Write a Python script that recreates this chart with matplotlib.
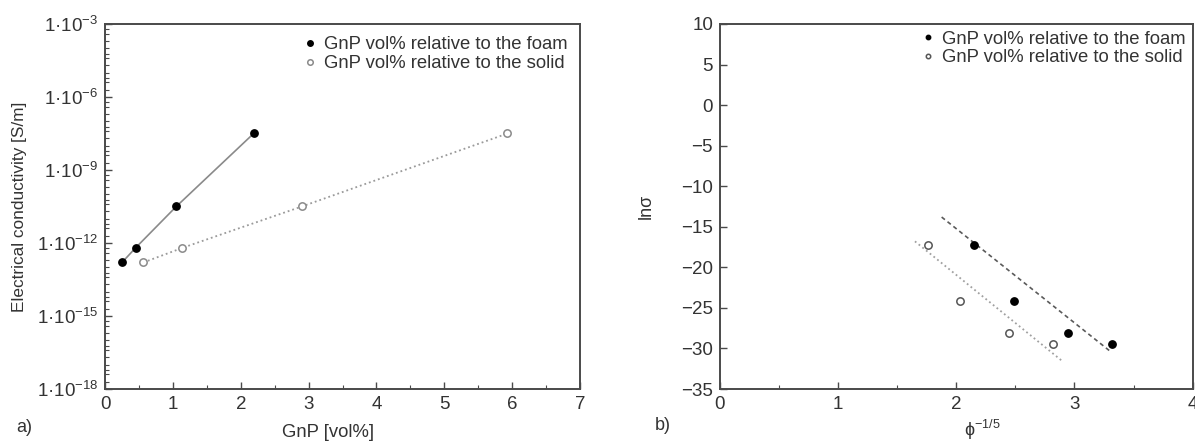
import numpy as np
import matplotlib
matplotlib.use('Agg')
import matplotlib.pyplot as plt
from matplotlib.ticker import FixedLocator, MultipleLocator, NullFormatter

plt.rcParams['font.family'] = ['Liberation Sans', 'DejaVu Sans']
plt.rcParams['mathtext.fontset'] = 'custom'
plt.rcParams['mathtext.rm'] = 'Liberation Sans'
plt.rcParams['mathtext.it'] = 'Liberation Sans:italic'
plt.rcParams['font.size'] = 13

# GnP content [vol%] and measured conductivity [S/m]
gnp_foam = [0.25, 0.45, 1.05, 2.19]
gnp_solid = [0.565, 1.14, 2.90, 5.93]
sigma = [10**-12.8, 10**-12.2, 10**-10.5, 10**-7.5]

# fitted lines in the ln(sigma) vs phi^(-1/5) plot: slope, intercept, x range
fit_foam = (-11.6, 7.96)
fit_foam_x = [1.876, 3.31]
fit_solid = (-11.84, 2.74)
fit_solid_x = [1.65, 2.90]

y_major = [1e-18, 1e-15, 1e-12, 1e-9, 1e-6, 1e-3]
y_labels = ['1·10$^{−18}$', '1·10$^{−15}$', '1·10$^{−12}$', '1·10$^{−9}$', '1·10$^{−6}$', '1·10$^{−3}$']

phi_foam = np.array(gnp_foam) / 100.0
phi_solid = np.array(gnp_solid) / 100.0
ln_sigma = np.log(sigma)

txt = '#333333'
spine = '#4a4a4a'

fig = plt.figure(figsize=(11.95, 4.41), dpi=100)
ax1 = fig.add_axes([0.0879, 0.1179, 0.3975, 0.8277])
ax2 = fig.add_axes([0.6025, 0.1179, 0.3955, 0.8277])

for ax in (ax1, ax2):
    for s in ax.spines.values():
        s.set_color(spine)
        s.set_linewidth(1.4)
    ax.tick_params(which='both', direction='in', colors=spine, labelcolor=txt,
                   top=False, right=False, labelsize=13.5, pad=5)
    ax.tick_params(which='major', length=5, width=1.0)
    ax.tick_params(which='minor', length=3, width=0.8)

# a) conductivity vs GnP content
ax1.plot(gnp_foam, sigma, '-', color='#8a8a8a', lw=1.2, zorder=1)
ax1.plot(gnp_solid, sigma, ':', color='#9a9a9a', lw=1.3, zorder=1)
ax1.plot(gnp_foam, sigma, 'o', color='black', ms=5.3, ls='none',
         label='GnP vol% relative to the foam')
ax1.plot(gnp_solid, sigma, 'o', mfc='white', mec='#8a8a8a', mew=1.1, ms=5.3, ls='none',
         label='GnP vol% relative to the solid')
ax1.set_yscale('log')
ax1.set_xlim(0, 7)
ax1.set_ylim(1e-18, 1e-3)
ax1.xaxis.set_major_locator(MultipleLocator(1))
ax1.xaxis.set_minor_locator(MultipleLocator(0.5))
ax1.yaxis.set_major_locator(FixedLocator(y_major))
ax1.set_yticklabels(y_labels)
minor = [m * 10.0**e for e in range(-18, -3) for m in (1, 2, 4, 6)]
minor = [v for v in minor if v not in y_major]
ax1.yaxis.set_minor_locator(FixedLocator(minor))
ax1.yaxis.set_minor_formatter(NullFormatter())
ax1.set_xlabel('GnP [vol%]', color=txt, fontsize=13.3)
ax1.xaxis.set_label_coords(0.47, -0.095)
ax1.set_ylabel('Electrical conductivity [S/m]', color=txt, fontsize=12.4)
ax1.yaxis.set_label_coords(-0.165, 0.5)
leg1 = ax1.legend(loc='upper right', frameon=False, handletextpad=0.25, markerscale=0.75,
                  borderaxespad=0.57, borderpad=0.1, labelspacing=0.1, handlelength=1.0,
                  fontsize=13.3)
for t in leg1.get_texts():
    t.set_color(txt)
fig.text(0.014, 0.02, 'a)', color=txt, fontsize=13)

# b) ln(sigma) vs phi^(-1/5)
xf = np.array(fit_foam_x)
xs = np.array(fit_solid_x)
ax2.plot(xf, fit_foam[0] * xf + fit_foam[1], color='#5a5a5a', lw=1.2, dashes=(2.5, 2.0), zorder=1)
ax2.plot(xs, fit_solid[0] * xs + fit_solid[1], ':', color='#a0a0a0', lw=1.3, zorder=1)
ax2.plot(phi_foam ** -0.2, ln_sigma, 'o', color='black', ms=5.3, ls='none',
         label='GnP vol% relative to the foam')
ax2.plot(phi_solid ** -0.2, ln_sigma, 'o', mfc='white', mec='#555555', mew=1.1, ms=5.3, ls='none',
         label='GnP vol% relative to the solid')
ax2.set_xlim(0, 4)
ax2.set_ylim(-35, 10)
ax2.xaxis.set_major_locator(MultipleLocator(1))
ax2.xaxis.set_minor_locator(MultipleLocator(0.5))
ax2.yaxis.set_major_locator(MultipleLocator(5))
ax2.set_xlabel('ϕ$^{−1/5}$', color=txt, fontsize=13)
ax2.xaxis.set_label_coords(0.556, -0.08)
ax2.set_ylabel('lnσ', color=txt, fontsize=13)
ax2.yaxis.set_label_coords(-0.137, 0.5)
leg2 = ax2.legend(loc='upper right', frameon=False, handletextpad=0.25, markerscale=0.6,
                  borderaxespad=0.26, borderpad=0.1, labelspacing=0.1, handlelength=1.0,
                  fontsize=13.3)
for t in leg2.get_texts():
    t.set_color(txt)
fig.text(0.548, 0.025, 'b)', color=txt, fontsize=13)

fig.savefig('out.png', dpi=100)
